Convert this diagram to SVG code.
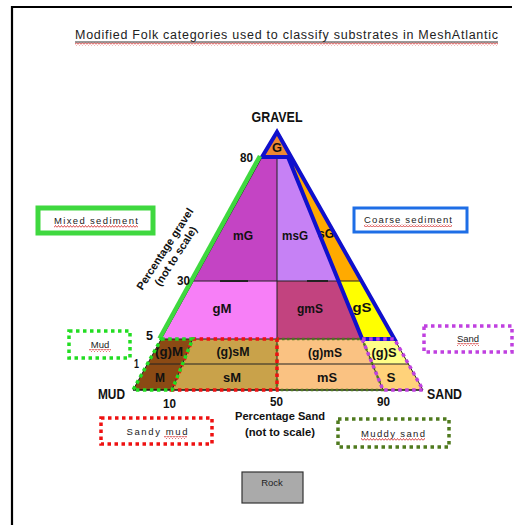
<svg xmlns="http://www.w3.org/2000/svg" width="529" height="525" viewBox="0 0 529 525">
  <style>
    .b{font-family:"Liberation Sans",Arial,sans-serif;font-weight:bold;fill:#111}
    .rl{font-size:13px;text-anchor:middle}
    .tk{font-size:13.5px}
    .lbl{font-family:"Liberation Sans",Arial,sans-serif;font-size:9.5px;fill:#222;text-anchor:middle}
    .div{stroke:#222;stroke-width:1;fill:none}
    .sq{fill:url(#squiggle)}
    .dot{fill:none;stroke-width:3.5;stroke-dasharray:3.5 3.5}
  </style>
  <defs>
    <!-- wavy red underline used under label words -->
    <pattern id="squiggle" patternUnits="userSpaceOnUse" width="3" height="3">
      <path d="M0,2.5 L1.5,0.5 L3,2.5" fill="none" stroke="#d02020" stroke-width="0.8"/>
    </pattern>
  </defs>

  <rect width="529" height="525" fill="#fff"/>
  <path d="M12,525 V7 H512" fill="none" stroke="#000" stroke-width="2.2"/>

  <!-- title -->
  <g id="title">
    <text x="75" y="39" font-family="'Liberation Sans',Arial,sans-serif" font-size="12.5" fill="#222" textLength="423" lengthAdjust="spacing">Modified Folk categories used to classify substrates in MeshAtlantic</text>
    <line x1="75" y1="42" x2="498" y2="42" stroke="#333" stroke-width="1"/>
    <rect class="sq" x="75" y="42.5" width="423" height="3"/>
  </g>

  <!-- ternary regions -->
  <g id="regions">
    <g id="G"><polygon points="277,130 262,157 292.2,157" fill="#EE8833"/><text class="b rl" x="277" y="152" textLength="10" lengthAdjust="spacingAndGlyphs">G</text></g>
    <g id="mG"><polygon points="262,157 277,157 277,281 193.4,281" fill="#C444C4"/><text class="b rl" x="243" y="240" textLength="20" lengthAdjust="spacingAndGlyphs">mG</text></g>
    <g id="msG"><polygon points="277,157 288,157 338.6,281 277,281" fill="#C681F5"/><text class="b rl" x="295" y="240" textLength="26" lengthAdjust="spacingAndGlyphs">msG</text></g>
    <g id="sG"><polygon points="288,157 292.2,157 361.8,281 338.6,281" fill="#FFAA00"/><text class="b rl" x="326" y="238" textLength="16" lengthAdjust="spacingAndGlyphs">sG</text></g>
    <g id="gM"><polygon points="193.4,281 277,281 277,339 161.2,339" fill="#F77FF7"/><text class="b rl" x="222" y="313" textLength="19" lengthAdjust="spacingAndGlyphs">gM</text></g>
    <g id="gmS"><polygon points="277,281 338.6,281 362.2,339 277,339" fill="#C2437F"/><text class="b rl" x="310" y="313" textLength="26" lengthAdjust="spacingAndGlyphs">gmS</text></g>
    <g id="gS"><polygon points="338.6,281 361.8,281 394.4,339 362.2,339" fill="#FFFF00"/><text class="b rl" x="362" y="312" textLength="19" lengthAdjust="spacingAndGlyphs">gS</text></g>
    <g id="gM_minor"><polygon points="161.2,339 192.6,339 182.5,364 147.4,364" fill="#8B4A14"/><text class="b rl" x="169" y="356" textLength="28" lengthAdjust="spacingAndGlyphs">(g)M</text></g>
    <g id="M"><polygon points="147.4,364 182.5,364 172,390 133,390" fill="#8B4A14"/><text class="b rl" x="160" y="382" textLength="10" lengthAdjust="spacingAndGlyphs">M</text></g>
    <g id="gsM"><polygon points="192.6,339 277,339 277,364 182.5,364" fill="#C9A24A"/><text class="b rl" x="233" y="356" textLength="33" lengthAdjust="spacingAndGlyphs">(g)sM</text></g>
    <g id="sM"><polygon points="182.5,364 277,364 277,390 172,390" fill="#C9A24A"/><text class="b rl" x="232" y="382" textLength="18" lengthAdjust="spacingAndGlyphs">sM</text></g>
    <g id="gmS_minor"><polygon points="277,339 362.2,339 372.4,364 277,364" fill="#FAC282"/><text class="b rl" x="325" y="357" textLength="34" lengthAdjust="spacingAndGlyphs">(g)mS</text></g>
    <g id="mS"><polygon points="277,364 372.4,364 383,390 277,390" fill="#FAC282"/><text class="b rl" x="327" y="382" textLength="20" lengthAdjust="spacingAndGlyphs">mS</text></g>
    <g id="gS_minor"><polygon points="362.2,339 394.4,339 408.4,364 372.4,364" fill="#FFFF88"/><text class="b rl" x="384" y="357" textLength="25" lengthAdjust="spacingAndGlyphs">(g)S</text></g>
    <g id="S"><polygon points="372.4,364 408.4,364 423,390 383,390" fill="#FFD27A"/><text class="b rl" x="391" y="382" textLength="9" lengthAdjust="spacingAndGlyphs">S</text></g>
  </g>

  <!-- class boundaries and outlines -->
  <g id="connectors">
    <path class="div" d="M262,157 H292.2 M193.4,281 H361.8 M161.2,339 H394.4 M147.4,364 H408.4 M277,157 V390 M192.6,339 L172,390 M288,157 L383,390 M277,130 L133,390 M277,130 L423,390"/>
    <path d="M133,390 H423" stroke="#111" stroke-width="1.5"/>
    <path d="M220,281 H248 M307,281 H328" stroke="#222" stroke-width="2"/>
    <polygon points="277,132 394.4,339 362.2,339 288,157 262,157" fill="none" stroke="#1010CC" stroke-width="4"/>
    <line x1="260" y1="156" x2="159.5" y2="338.5" stroke="#3FD83F" stroke-width="4.5"/>
    <polygon class="dot" points="277,339 362.2,339 383,390 277,390" stroke="#4F7A1E" style="stroke-width:2.5;stroke-dasharray:2.5 2.5"/>
    <polygon class="dot" points="192.6,339 277,339 277,390 172,390" stroke="#EE1111"/>
    <polygon class="dot" points="161.2,339 192.6,339 172,390 133,390" stroke="#22DD22"/>
    <polygon class="dot" points="362.2,339 394.4,339 423,390 383,390" stroke="#C040E0"/>
  </g>

  <!-- axes -->
  <g id="axes">
    <text class="b" x="277" y="122" font-size="14" text-anchor="middle" textLength="51" lengthAdjust="spacingAndGlyphs">GRAVEL</text>
    <text class="b" x="98" y="399" font-size="14" textLength="27" lengthAdjust="spacingAndGlyphs">MUD</text>
    <text class="b" x="427" y="399" font-size="14" textLength="35" lengthAdjust="spacingAndGlyphs">SAND</text>
    <text class="b tk" x="240" y="162" textLength="13" lengthAdjust="spacingAndGlyphs">80</text>
    <text class="b tk" x="177" y="285" textLength="13" lengthAdjust="spacingAndGlyphs">30</text>
    <text class="b tk" x="146" y="340" textLength="7" lengthAdjust="spacingAndGlyphs">5</text>
    <text class="b tk" x="134" y="368" textLength="5" lengthAdjust="spacingAndGlyphs">1</text>
    <text class="b tk" x="163" y="408" textLength="13" lengthAdjust="spacingAndGlyphs">10</text>
    <text class="b tk" x="270" y="406" textLength="13" lengthAdjust="spacingAndGlyphs">50</text>
    <text class="b tk" x="377" y="406" textLength="13" lengthAdjust="spacingAndGlyphs">90</text>
    <text class="b" x="280" y="420" font-size="11" text-anchor="middle" textLength="90" lengthAdjust="spacingAndGlyphs">Percentage Sand</text>
    <text class="b" x="280" y="436" font-size="11" text-anchor="middle" textLength="70" lengthAdjust="spacingAndGlyphs">(not to scale)</text>
    <g transform="translate(168,251) rotate(-57)">
      <text class="b" x="0" y="0" font-size="11" text-anchor="middle">Percentage gravel</text>
      <text class="b" x="0" y="13" font-size="11" text-anchor="middle">(not to scale)</text>
    </g>
  </g>

  <!-- legend boxes -->
  <g id="mixed-sediment">
    <rect x="38" y="208" width="115" height="25" fill="#fff" stroke="#3FD83F" stroke-width="5"/>
    <text class="lbl" x="96" y="224" textLength="84" lengthAdjust="spacing">Mixed sediment</text>
    <rect class="sq" x="54" y="225" width="84" height="3"/>
  </g>
  <g id="coarse-sediment">
    <rect x="354" y="208" width="113" height="24" fill="#fff" stroke="#1E6EE6" stroke-width="3"/>
    <text class="lbl" x="408" y="223" textLength="88" lengthAdjust="spacing">Coarse sediment</text>
    <rect class="sq" x="364" y="224" width="88" height="3"/>
  </g>
  <g id="mud">
    <rect class="dot" x="69" y="331" width="61" height="27" stroke="#22DD22"/>
    <text class="lbl" x="100" y="348">Mud</text>
    <rect class="sq" x="89" y="349" width="22" height="3"/>
  </g>
  <g id="sand">
    <rect class="dot" x="424" y="326" width="88" height="26" stroke="#C040E0"/>
    <text class="lbl" x="468" y="342">Sand</text>
    <rect class="sq" x="457" y="343" width="22" height="3"/>
  </g>
  <g id="sandy-mud">
    <rect class="dot" x="101" y="418" width="111" height="26" stroke="#EE1111"/>
    <text class="lbl" x="157" y="435" textLength="61" lengthAdjust="spacing">Sandy mud</text>
    <rect class="sq" x="164" y="436" width="23" height="3"/>
  </g>
  <g id="muddy-sand">
    <rect class="dot" x="338" y="419" width="111" height="28" stroke="#4F7A1E"/>
    <text class="lbl" x="393" y="437" textLength="64" lengthAdjust="spacing">Muddy sand</text>
    <rect class="sq" x="361" y="438" width="64" height="3"/>
  </g>
  <g id="rock">
    <rect x="242" y="472" width="61" height="31" fill="#AAAAAA" stroke="#333" stroke-width="1.2"/>
    <text class="lbl" x="272" y="486">Rock</text>
  </g>
</svg>
